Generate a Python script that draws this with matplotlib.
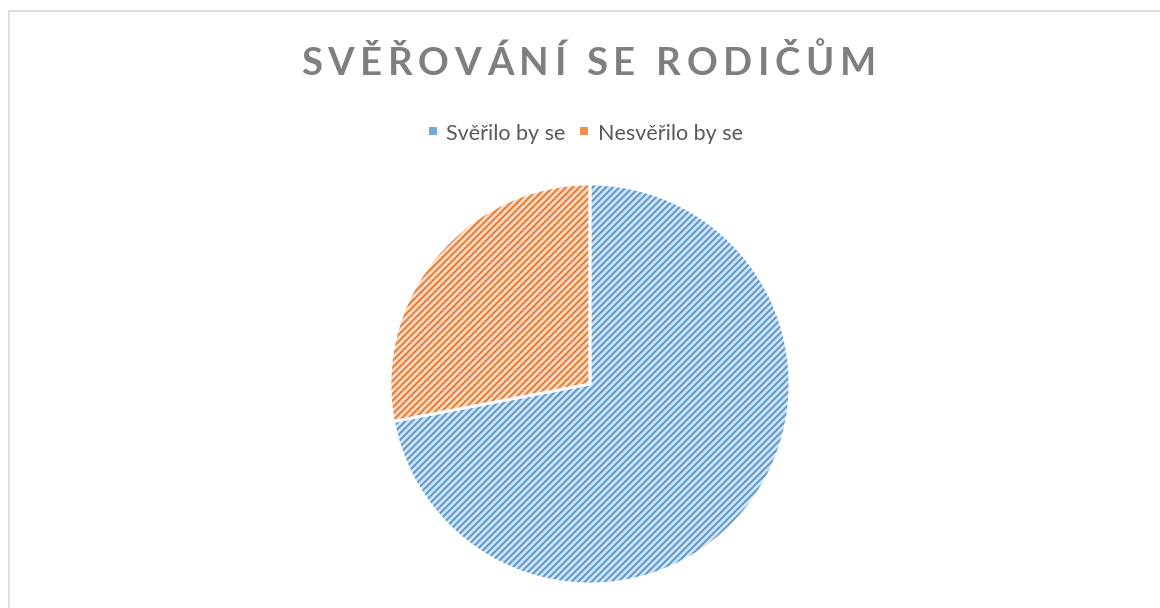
import matplotlib.pyplot as plt
from matplotlib.patches import Rectangle
from matplotlib.lines import Line2D

plt.rcParams['font.family'] = ['Lato', 'DejaVu Sans']
plt.rcParams['hatch.linewidth'] = 1.5

TITLE = "SVĚŘOVÁNÍ SE RODIČŮM"
LABELS = ["Svěřilo by se", "Nesvěřilo by se"]
VALUES = [72, 28]
HATCH_COLORS = ["#5B9BD5", "#ED7D31"]
FILL_COLORS = ["#D6E5F4", "#FBDDCB"]

W, H = 1160, 608
fig = plt.figure(figsize=(W / 100, H / 100), dpi=100)


def px(x, y):
    # pixel position (from top-left) -> figure fraction
    return x / W, 1 - y / H


# chart area border (only top and left edges visible)
fig.add_artist(Line2D([8.5 / W, 8.5 / W], [0, 1 - 11 / H], color="#D9D9D9", lw=1.2))
fig.add_artist(Line2D([8.5 / W, 1], [1 - 11 / H, 1 - 11 / H], color="#D9D9D9", lw=1.2))

# pie
R = 200
cx, cy = 590, 384
ax = fig.add_axes([(cx - R) / W, (H - cy - R) / H, 2 * R / W, 2 * R / H])
common = dict(startangle=90, counterclock=False, radius=1)
ax.pie(VALUES, colors=FILL_COLORS, wedgeprops=dict(linewidth=0), **common)
wedges, _ = ax.pie(VALUES, wedgeprops=dict(facecolor="none", linewidth=0), **common)
for w, c in zip(wedges, HATCH_COLORS):
    w.set_edgecolor(c)
    w.set_hatch("/////")
ax.pie(VALUES, wedgeprops=dict(facecolor="none", edgecolor="white", linewidth=2), **common)
ax.set_xlim(-1, 1)
ax.set_ylim(-1, 1)
ax.axis("off")

# title with letter spacing
renderer = fig.canvas.get_renderer()
title_kw = dict(fontsize=27.5, fontweight="bold", color="#7F7F7F")


def char_width(ch, kw):
    t1 = fig.text(0, 0, "I" + ch + "I", **kw)
    t2 = fig.text(0, 0, "II", **kw)
    w = t1.get_window_extent(renderer).width - t2.get_window_extent(renderer).width
    t1.remove()
    t2.remove()
    return w


widths = [char_width(ch, title_kw) for ch in TITLE]
target_left, target_right = 301, 876
tracking = (target_right - target_left - sum(widths)) / (len(TITLE) - 1)
x = target_left
for ch, w in zip(TITLE, widths):
    fig.text(*px(x, 75), ch, ha="left", va="baseline", **title_kw)
    x += w + tracking

# legend
legend_kw = dict(fontsize=15.5, color="#595959", ha="left", va="baseline")
square_x = [429, 580]
text_x = [446, 598]
for lab, sx, tx, fc, hc in zip(LABELS, square_x, text_x, FILL_COLORS, HATCH_COLORS):
    fig.add_artist(Rectangle(px(sx, 135), 8 / W, 8 / H, facecolor=hc,
                             edgecolor=hc, linewidth=0, alpha=0.85))
    fig.text(*px(tx, 140), lab, **legend_kw)

fig.savefig("out.png", dpi=100)
